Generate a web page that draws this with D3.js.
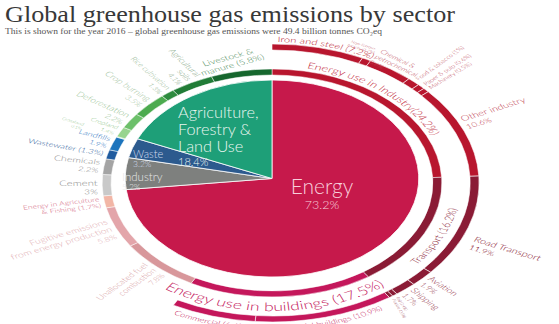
<!DOCTYPE html>
<html>
<head>
<meta charset="utf-8">
<script src="https://cdn.jsdelivr.net/npm/d3@7"></script>
<style>
  html, body { margin: 0; padding: 0; background: #fff; overflow: hidden; }
  text { font-family: Lato, "Open Sans", sans-serif; font-weight: 300; }
</style>
</head>
<body>
<svg id="chart" width="559" height="324"></svg>
<script>
// Global greenhouse gas emissions by sector, 2016 (share of total, %)
const sectors = ["Energy", "Industry", "Waste", "Agriculture, Forestry & Land Use"];
const sectorShares = [73.2, 5.2, 3.2, 18.4];

// First ring: breakdown of every sector
const subsectors = [
  "Energy use in Industry", "Transport", "Energy use in buildings",
  "Unallocated fuel combustion", "Fugitive emissions from energy production",
  "Energy in Agriculture & Fishing",
  "Cement", "Chemicals",
  "Wastewater", "Landfills",
  "Grassland", "Cropland", "Deforestation", "Crop burning",
  "Rice cultivation", "Agricultural soils", "Livestock & manure"
];
const subsectorShares = [24.2, 16.2, 17.5, 7.8, 5.8, 1.7, 3.0, 2.2, 1.3, 1.9, 0.1, 1.4, 2.2, 3.5, 1.3, 4.1, 5.8];

// Second ring: where energy is used in industry, transport and buildings
const endUses = [
  "Iron and steel", "Non-ferrous metals", "Chemical & petrochemical", "Food & tobacco",
  "Paper & pulp", "Machinery", "Other industry",
  "Road Transport", "Aviation", "Shipping", "Rail", "Pipeline",
  "Residential buildings", "Commercial"
];
const endUseShares = [7.2, 0.7, 3.6, 1.0, 0.6, 0.5, 10.6, 11.9, 1.9, 1.7, 0.4, 0.3, 10.9, 6.6];
const endUseParent = [
  "Energy use in Industry", "Energy use in Industry", "Energy use in Industry", "Energy use in Industry",
  "Energy use in Industry", "Energy use in Industry", "Energy use in Industry",
  "Transport", "Transport", "Transport", "Transport", "Transport",
  "Energy use in buildings", "Energy use in buildings"
];

const titleText = "Global greenhouse gas emissions by sector";
const subtitleText = "This is shown for the year 2016 \u2013 global greenhouse gas emissions were 49.4 billion tonnes CO\u2082eq";

// ---------- geometry & styles ----------
const cx = 272, cy = 183, sx = 1.49;
const pieR = 98.5, pieDy = -4.5;
const ring1 = [108, 114], ring2 = [133, 139];

const sectorColor = {
  "Energy": "#c6194b",
  "Industry": "#7e807e",
  "Waste": "#2c5a8e",
  "Agriculture, Forestry & Land Use": "#1e9f78"
};
const ringColor = {
  "Energy use in Industry": "#b8162e",
  "Transport": "#8a1b35",
  "Energy use in buildings": "#c4175b",
  "Unallocated fuel combustion": "#d8979b",
  "Fugitive emissions from energy production": "#e3a5aa",
  "Energy in Agriculture & Fishing": "#f2b6a6",
  "Cement": "#c9c9c9",
  "Chemicals": "#a4a4a4",
  "Wastewater": "#1f5b9f",
  "Landfills": "#1c74bd",
  "Grassland": "#c2e8b4",
  "Cropland": "#98d48e",
  "Deforestation": "#6cc06a",
  "Crop burning": "#4cab4f",
  "Rice cultivation": "#2d8b3e",
  "Agricultural soils": "#217c37",
  "Livestock & manure": "#16672e"
};

// label layout for ring segments (radius, direction, size, colour)
const ring1Labels = {
  "Unallocated fuel combustion": { lines: ["Unallocated fuel", "combustion"], pct: "line", mode: "in", r: 117, size: 6.8, color: "#d69ca1" },
  "Fugitive emissions from energy production": { lines: ["Fugitive emissions", "from energy production"], pct: "line", mode: "in", r: 117, size: 7.2, color: "#e2adb2" },
  "Energy in Agriculture & Fishing": { lines: ["Energy in Agriculture", "& Fishing"], pct: "paren", mode: "in", r: 117, size: 5.8, color: "#d2607a" },
  "Cement": { lines: ["Cement"], pct: "line", mode: "in", r: 117, size: 7.6, dy: 2, color: "#8c8c8c" },
  "Chemicals": { lines: ["Chemicals"], pct: "line", mode: "in", r: 117, size: 7.2, color: "#8c8c8c" },
  "Wastewater": { lines: ["Wastewater"], pct: "paren", mode: "in", r: 117, size: 6.4, color: "#2d5d9a" },
  "Landfills": { lines: ["Landfills"], pct: "line", mode: "in", r: 117, size: 6.4, color: "#2b74c0" },
  "Grassland": { lines: ["Grassland"], pct: "line", mode: "in", r: 139, size: 3.8, color: "#8cbf86" },
  "Cropland": { lines: ["Cropland"], pct: "line", mode: "in", r: 117, size: 5.2, color: "#8cbf86" },
  "Deforestation": { lines: ["Deforestation"], pct: "line", mode: "in", r: 117, size: 7, color: "#98bf94" },
  "Crop burning": { lines: ["Crop burning"], pct: "line", mode: "in", r: 117, size: 7, color: "#a2c49e" },
  "Rice cultivation": { lines: ["Rice cultivation"], pct: "line", mode: "in", r: 117, size: 6, color: "#93b692" },
  "Agricultural soils": { lines: ["Agricultural", "soils"], pct: "line", mode: "in", r: 117, size: 6.5, rot: 55, color: "#7fa583" },
  "Livestock & manure": { lines: ["Livestock &", "manure"], pct: "paren", mode: "tan", a: 347, r: 125, size: 7.3, rot: -22, color: "#4f8c5b" }
};
const ring1Curved = {
  "Energy use in Industry": { text: d => `Energy use in Industry(${d}%)`, r: 117, from: 11.5, cw: true, size: 8.7, color: "#bf2a3c" },
  "Transport": { text: d => `Transport (${d}%)`, r: 127, center: 116, cw: false, size: 8.3, color: "#8a1b35" },
  "Energy use in buildings": { text: d => `Energy use in buildings (${d}%)`, r: 128, center: 179, cw: false, size: 11.8, color: "#c4175b" }
};
const ring2Labels = {
  "Non-ferrous metals": { lines: ["Non-ferrous", "metals"], pct: "paren", mode: "tan", a: 24, r: 149, rot: 24, size: 3.4, color: "#c05060" },
  "Chemical & petrochemical": { lines: ["Chemical &", "petrochemical"], pct: "line", mode: "tan", a: 29, r: 151, rot: 35, anchor: "start", valign: "top", size: 5.6, color: "#bd4a58" },
  "Food & tobacco": { lines: ["Food & tobacco"], pct: "paren", mode: "out", r: 142, size: 5, color: "#c05060" },
  "Paper & pulp": { lines: ["Paper & pulp"], pct: "paren", mode: "out", r: 142, size: 5, color: "#c05060" },
  "Machinery": { lines: ["Machinery"], pct: "paren", mode: "out", r: 142, size: 5, color: "#c05060" },
  "Other industry": { lines: ["Other industry"], pct: "line", mode: "out", a: 65, r: 142, size: 7.5, color: "#c0404f" },
  "Road Transport": { lines: ["Road Transport"], pct: "line", mode: "out", a: 114, r: 147, size: 7.5, color: "#8a1b35" },
  "Aviation": { lines: ["Aviation"], pct: "line", mode: "out", r: 142, size: 7, color: "#94364a" },
  "Shipping": { lines: ["Shipping"], pct: "line", mode: "out", r: 142, size: 7, color: "#94364a" },
  "Rail": { lines: ["Rail"], pct: "paren", mode: "out", r: 142, rot: 65, size: 3.2, color: "#94364a" },
  "Pipeline": { lines: ["Pipeline"], pct: "paren", mode: "out", r: 142, rot: 68, size: 3.2, color: "#94364a" }
};
const ring2Curved = {
  "Iron and steel": { text: d => `Iron and steel (${d}%)`, r: 141, from: 1.5, cw: true, size: 7.5, color: "#b8162e" },
  "Residential buildings": { text: d => `Residential buildings (${d}%)`, r: 147, cw: false, size: 6.5, color: "#c4175b" },
  "Commercial": { text: d => `Commercial (${d}%)`, r: 147, cw: false, size: 6.5, color: "#c4175b" }
};
const pieLabels = [
  { sector: "Agriculture, Forestry & Land Use", lines: ["Agriculture,", "Forestry &", "Land Use"], x: 178, y: 118, size: 16.3, lh: 17, pctSize: 11, pctGap: 14, anchor: "start", color: "#eaf6f0" },
  { sector: "Waste", lines: ["Waste"], x: 133, y: 158, size: 11, lh: 11, pctSize: 8.5, pctGap: 9, anchor: "start", color: "#d3dcee" },
  { sector: "Industry", lines: ["Industry"], x: 122, y: 181, size: 11.5, lh: 11, pctSize: 8.5, pctGap: 9, anchor: "start", color: "#e6e6e6" },
  { sector: "Energy", lines: ["Energy"], x: 322, y: 194, size: 21, lh: 20, pctSize: 12.5, pctGap: 15, anchor: "middle", color: "#f8cfdb" }
];

// ---------- drawing ----------
const svg = d3.select("#chart");
const total = d3.sum(sectorShares);
const angle = d3.scaleLinear().domain([0, total]).range([0, 2 * Math.PI]);
const deg = v => angle(v) * 180 / Math.PI;

function spans(names, values) {
  const ends = d3.cumsum(values);
  return names.map((n, i) => ({ name: n, value: values[i], start: ends[i] - values[i], end: ends[i] }));
}
const sectorSpans = spans(sectors, sectorShares);
const subSpans = spans(subsectors, subsectorShares);
const endSpans = spans(endUses, endUseShares).map((d, i) => ({ ...d, parent: endUseParent[i] }));
const pct = v => `${+v}%`;

// title
svg.append("text")
  .attr("x", 5).attr("y", 22)
  .attr("textLength", 450).attr("lengthAdjust", "spacingAndGlyphs")
  .style("font-family", "'Liberation Serif', 'DejaVu Serif', serif")
  .style("font-weight", 400)
  .attr("font-size", 23).attr("fill", "#383838")
  .text(titleText);
svg.append("text")
  .attr("x", 5).attr("y", 34)
  .attr("textLength", 377).attr("lengthAdjust", "spacingAndGlyphs")
  .style("font-family", "'Liberation Serif', 'DejaVu Serif', serif")
  .style("font-weight", 400)
  .attr("font-size", 8.3).attr("fill", "#555")
  .text(subtitleText);

// the wheel is drawn on a circle and widened horizontally
const g = svg.append("g").attr("transform", `translate(${cx},${cy}) scale(${sx},1)`);
const arc = d3.arc();

g.append("g").attr("transform", `translate(0,${pieDy})`)
  .selectAll("path").data(sectorSpans).join("path")
  .attr("d", d => arc({ innerRadius: 0, outerRadius: pieR, startAngle: angle(d.start), endAngle: angle(d.end) }))
  .attr("fill", d => sectorColor[d.name])
  .attr("stroke", "#fff").attr("stroke-width", 0.8).attr("vector-effect", "non-scaling-stroke");

g.append("g").selectAll("path").data(subSpans).join("path")
  .attr("d", d => arc({ innerRadius: ring1[0], outerRadius: ring1[1], startAngle: angle(d.start), endAngle: angle(d.end) }))
  .attr("fill", d => ringColor[d.name])
  .attr("stroke", "#fff").attr("stroke-width", 0.5).attr("vector-effect", "non-scaling-stroke");

g.append("g").selectAll("path").data(endSpans).join("path")
  .attr("d", d => arc({ innerRadius: ring2[0], outerRadius: ring2[1], startAngle: angle(d.start), endAngle: angle(d.end) }))
  .attr("fill", d => ringColor[d.parent])
  .attr("stroke", "#fff").attr("stroke-width", 0.6).attr("vector-effect", "non-scaling-stroke");

// straight labels around the rings
function placeLabel(d, L) {
  const mid = L.a != null ? L.a : deg((d.start + d.end) / 2);
  const rad = mid * Math.PI / 180;
  const x = L.r * Math.sin(rad), y = -L.r * Math.cos(rad) + (L.dy || 0);
  let rot = 0, anchor = "middle";
  if (L.mode === "out") { rot = mid - 90; anchor = "start"; }
  else if (L.mode === "in") { rot = mid + 90; anchor = "end"; }
  if (L.rot != null) rot = L.rot;
  if (L.anchor) anchor = L.anchor;

  const rows = L.lines.map(t => ({ t, s: L.size }));
  if (L.pct === "line") rows.push({ t: pct(d.value), s: L.size * 0.88 });
  else rows[rows.length - 1].t += ` (${pct(d.value)})`;

  const lh = L.size * 1.12;
  const y0 = L.valign === "top" ? 0 : -(rows.length - 1) / 2 * lh;
  const t = g.append("text")
    .attr("transform", `translate(${x},${y}) rotate(${rot})`)
    .attr("text-anchor", anchor)
    .attr("fill", L.color);
  rows.forEach((row, i) => {
    t.append("tspan").attr("x", 0).attr("y", y0 + i * lh + L.size * 0.35)
      .attr("font-size", row.s).text(row.t);
  });
}

// curved labels that follow the rings
const defs = svg.append("defs");
let pathId = 0;
function curvedLabel(d, L) {
  let a0, a1, offset, anchor;
  if (L.from != null) { a0 = L.from; a1 = L.from + 150; offset = "0%"; anchor = "start"; }
  else {
    const c = L.center != null ? L.center : deg((d.start + d.end) / 2);
    a0 = L.cw ? c - 75 : c + 75; a1 = L.cw ? c + 75 : c - 75; offset = "50%"; anchor = "middle";
  }
  const p = a => [L.r * Math.sin(a * Math.PI / 180), -L.r * Math.cos(a * Math.PI / 180)];
  const [x0, y0] = p(a0), [x1, y1] = p(a1);
  const id = `ring-label-${pathId++}`;
  defs.append("path").attr("id", id)
    .attr("d", `M${x0},${y0}A${L.r},${L.r} 0 0 ${L.cw ? 1 : 0} ${x1},${y1}`);
  g.append("text")
    .attr("font-size", L.size).attr("fill", L.color)
    .append("textPath").attr("href", `#${id}`)
    .attr("startOffset", offset).attr("text-anchor", anchor)
    .text(L.text(d.value));
}

subSpans.forEach(d => {
  if (ring1Labels[d.name]) placeLabel(d, ring1Labels[d.name]);
  if (ring1Curved[d.name]) curvedLabel(d, ring1Curved[d.name]);
});
endSpans.forEach(d => {
  if (ring2Labels[d.name]) placeLabel(d, ring2Labels[d.name]);
  if (ring2Curved[d.name]) curvedLabel(d, ring2Curved[d.name]);
});

// sector names inside the pie
pieLabels.forEach(L => {
  const d = sectorSpans.find(s => s.name === L.sector);
  const t = svg.append("text").attr("text-anchor", L.anchor).attr("fill", L.color);
  L.lines.forEach((line, i) => {
    t.append("tspan").attr("x", L.x).attr("y", L.y + i * L.lh)
      .attr("font-size", L.size).text(line);
  });
  t.append("tspan").attr("x", L.x).attr("y", L.y + (L.lines.length - 1) * L.lh + L.pctGap)
    .attr("font-size", L.pctSize).text(pct(d.value));
});
</script>
</body>
</html>
